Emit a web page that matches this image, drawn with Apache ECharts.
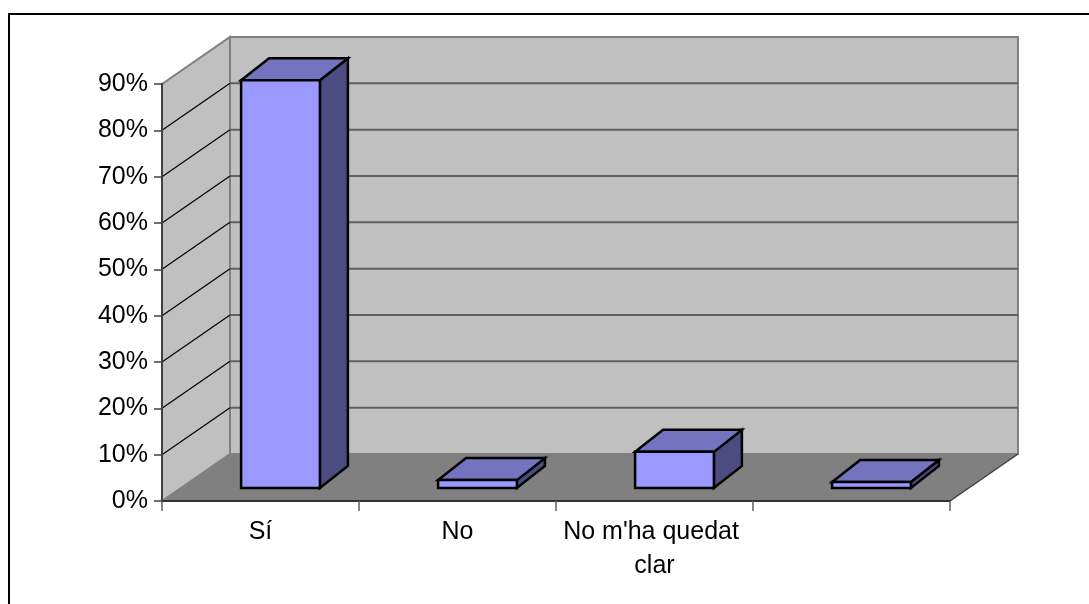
<!DOCTYPE html>
<html>
<head>
<meta charset="utf-8">
<script src="https://cdn.jsdelivr.net/npm/echarts@6/dist/echarts.min.js"></script>
<style>
html,body{margin:0;padding:0;background:#fff;}
#chart{width:1089px;height:604px;}
</style>
</head>
<body>
<div id="chart"></div>
<script>
// ---- data ----
const categories = ['Sí', 'No', "No m'ha quedat clar", ''];
const values = [88, 1.7, 7.8, 1.3];
const yTicks = [0, 10, 20, 30, 40, 50, 60, 70, 80, 90];

// ---- 3D geometry (pixel styles) ----
const DEPTH_DX = 68, DEPTH_DY = -47;      // wall depth
const BAR_F_DX = 20, BAR_F_DY = -13;      // bar front plane offset
const BAR_B_DX = 48, BAR_B_DY = -35;      // bar back plane offset
const BAR_W = 0.4;                        // fraction of band

const FONT = "'Liberation Sans', Arial, sans-serif";

const chart = echarts.init(document.getElementById('chart'));

function frameItem(params, api) {
  const cs = params.coordSys;
  const x0 = cs.x, x1 = cs.x + cs.width;
  const yBase = api.coord([0, 0])[1];
  const yTop = api.coord([0, yTicks[yTicks.length - 1]])[1];
  const children = [];
  children.push({
    type: 'rect',
    shape: { x: x0 + DEPTH_DX, y: yTop + DEPTH_DY, width: cs.width, height: yBase - yTop },
    style: { fill: '#c0c0c0', stroke: '#808080', lineWidth: 2 }
  });
  children.push({
    type: 'polygon',
    shape: { points: [[x0, yTop], [x0 + DEPTH_DX, yTop + DEPTH_DY], [x0 + DEPTH_DX, yBase + DEPTH_DY], [x0, yBase]] },
    style: { fill: '#c0c0c0', stroke: '#808080', lineWidth: 2 }
  });
  yTicks.forEach(function (t) {
    if (t === 0 || t === yTicks[yTicks.length - 1]) return;
    const y = api.coord([0, t])[1];
    children.push({
      type: 'line',
      shape: { x1: x0, y1: y, x2: x0 + DEPTH_DX, y2: y + DEPTH_DY },
      style: { stroke: '#000', lineWidth: 1.2 }
    });
    children.push({
      type: 'line',
      shape: { x1: x0 + DEPTH_DX, y1: y + DEPTH_DY, x2: x1 + DEPTH_DX, y2: y + DEPTH_DY },
      style: { stroke: '#606060', lineWidth: 2 }
    });
  });
  children.push({
    type: 'polygon',
    shape: { points: [[x0, yBase], [x1, yBase], [x1 + DEPTH_DX, yBase + DEPTH_DY], [x0 + DEPTH_DX, yBase + DEPTH_DY]] },
    style: { fill: '#808080', stroke: null }
  });
  children.push({
    type: 'line',
    shape: { x1: x1, y1: yBase, x2: x1 + DEPTH_DX, y2: yBase + DEPTH_DY },
    style: { stroke: '#404040', lineWidth: 1.5 }
  });
  return { type: 'group', children: children };
}

function barItem(params, api) {
  const idx = api.value(0);
  const v = api.value(1);
  const top = api.coord([idx, v]);
  const base = api.coord([idx, 0]);
  const bw = api.size([1, 0])[0];
  const L = top[0] - bw * BAR_W / 2 + BAR_F_DX;
  const R = top[0] + bw * BAR_W / 2 + BAR_F_DX;
  const T = top[1] + BAR_F_DY;
  const B = base[1] + BAR_F_DY;
  const ddx = BAR_B_DX - BAR_F_DX, ddy = BAR_B_DY - BAR_F_DY;
  const st = { stroke: '#000', lineWidth: 2.5, lineJoin: 'miter' };
  return {
    type: 'group',
    children: [
      { type: 'polygon', shape: { points: [[R, T], [R + ddx, T + ddy], [R + ddx, B + ddy], [R, B]] },
        style: Object.assign({ fill: '#4c4c80' }, st) },
      { type: 'polygon', shape: { points: [[L, T], [R, T], [R + ddx, T + ddy], [L + ddx, T + ddy]] },
        style: Object.assign({ fill: '#7373bf' }, st) },
      { type: 'polygon', shape: { points: [[L, T], [R, T], [R, B], [L, B]] },
        style: Object.assign({ fill: '#9999ff' }, st) }
    ]
  };
}

chart.setOption({
  animation: false,
  backgroundColor: '#ffffff',
  graphic: [{
    type: 'rect',
    shape: { x: 9, y: 14, width: 1200, height: 700 },
    style: { fill: 'none', stroke: '#000', lineWidth: 2 },
    z: 100
  }],
  grid: { left: 162, top: 84, width: 788, height: 417 },
  xAxis: {
    type: 'category',
    data: categories,
    z: 5,
    axisLine: { show: true, lineStyle: { color: '#333', width: 2 } },
    axisTick: { show: true, length: 10, lineStyle: { color: '#606060', width: 1.5 } },
    axisLabel: {
      color: '#000', fontFamily: FONT, fontSize: 25, margin: 14, lineHeight: 34,
      width: 192, overflow: 'break', interval: 0
    },
    splitLine: { show: false }
  },
  yAxis: {
    type: 'value',
    min: 0, max: 90, interval: 10,
    z: 5,
    axisLine: { show: true, lineStyle: { color: '#404040', width: 2 } },
    axisTick: { show: true, length: 8, lineStyle: { color: '#404040', width: 1.5 } },
    axisLabel: { color: '#000', fontFamily: FONT, fontSize: 25, margin: 14, formatter: '{value}%' },
    splitLine: { show: false }
  },
  series: [
    { type: 'custom', name: 'frame', renderItem: frameItem, data: [[0, 0]], clip: false, z: 1, silent: true },
    { type: 'custom', name: 'bars', renderItem: barItem,
      data: values.map(function (v, i) { return [i, v]; }), clip: false, z: 10,
      encode: { x: 0, y: 1 } }
  ]
});
</script>
</body>
</html>
